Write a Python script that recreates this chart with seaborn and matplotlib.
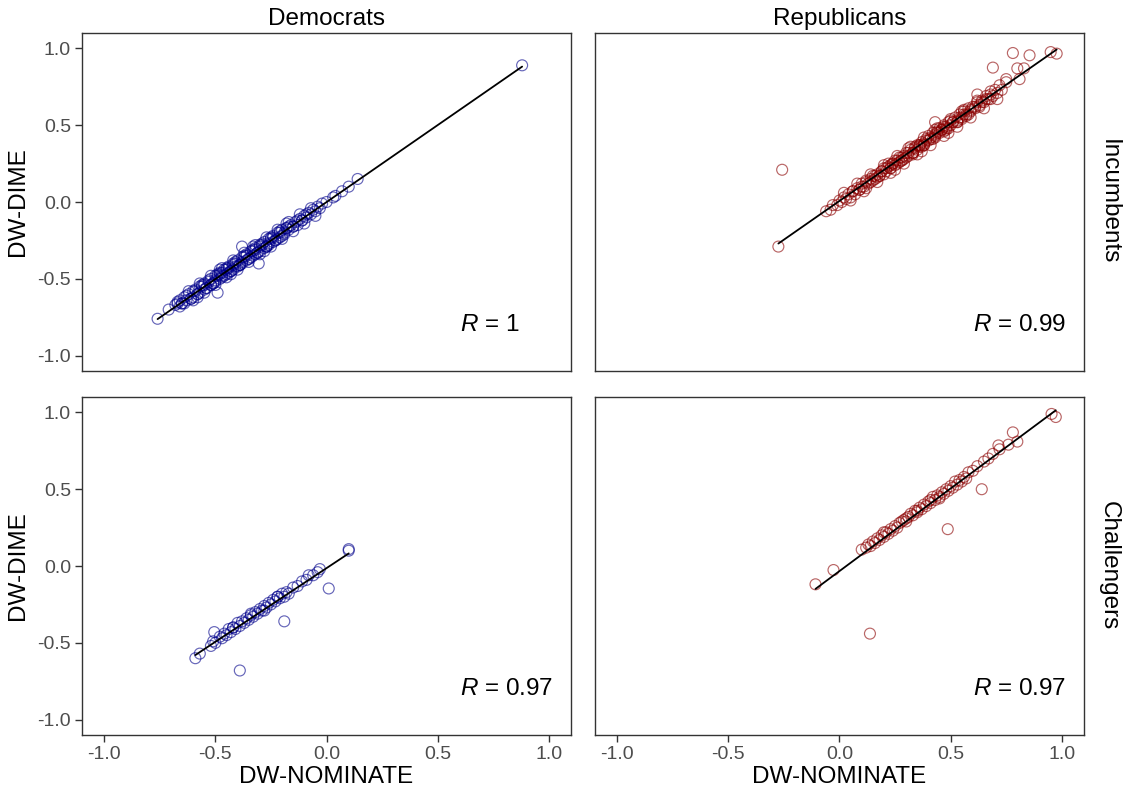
import matplotlib
matplotlib.use("Agg")
import matplotlib.pyplot as plt
import seaborn as sns
import pandas as pd

# DW-NOMINATE vs DW-DIME
dem_inc_nom = [
    -0.76, -0.71, -0.68, -0.67, -0.66, -0.66, -0.65, -0.64, -0.63, -0.62,
    -0.61, -0.60, -0.60, -0.59, -0.58, -0.57, -0.57, -0.56, -0.55, -0.55,
    -0.54, -0.53, -0.52, -0.52, -0.51, -0.50, -0.50, -0.49, -0.48, -0.48,
    -0.47, -0.46, -0.46, -0.45, -0.44, -0.44, -0.43, -0.42, -0.42, -0.41,
    -0.40, -0.40, -0.39, -0.38, -0.38, -0.37, -0.36, -0.36, -0.35, -0.34,
    -0.34, -0.33, -0.32, -0.32, -0.31, -0.30, -0.30, -0.29, -0.28, -0.28,
    -0.27, -0.26, -0.26, -0.25, -0.24, -0.24, -0.23, -0.22, -0.22, -0.21,
    -0.20, -0.20, -0.19, -0.18, -0.17, -0.16, -0.15, -0.14, -0.13, -0.12,
    -0.11, -0.10, -0.09, -0.08, -0.07, -0.06, -0.05, -0.04, -0.03, -0.02,
    0.00, 0.03, 0.04, 0.07, 0.10, 0.14, 0.88,
    -0.38, -0.305, -0.49, -0.67, -0.64,
    -0.65, -0.63, -0.61, -0.59, -0.58, -0.56, -0.54, -0.53, -0.51, -0.49,
    -0.47, -0.45, -0.43, -0.41, -0.39, -0.37, -0.35, -0.33, -0.31, -0.29,
    -0.27, -0.25, -0.23, -0.21, -0.19, -0.17, -0.15, -0.13, -0.11, -0.09,
    -0.55, -0.52, -0.48, -0.45, -0.42, -0.39, -0.36, -0.33, -0.30, -0.27,
    -0.24, -0.21, -0.18, -0.50, -0.44, -0.38, -0.32, -0.26, -0.47, -0.41,
    -0.62, -0.60, -0.57, -0.55, -0.52, -0.50, -0.47, -0.45, -0.42, -0.40,
    -0.37, -0.35, -0.32, -0.30, -0.27, -0.25, -0.22, -0.20, -0.17, -0.15,
    -0.12, -0.10, -0.07, -0.05, -0.58, -0.48, -0.43, -0.33, -0.28, -0.18]
dem_inc_dime = [
    -0.76, -0.70, -0.67, -0.65, -0.68, -0.64, -0.66, -0.62, -0.64, -0.60,
    -0.63, -0.58, -0.62, -0.57, -0.60, -0.55, -0.59, -0.54, -0.57, -0.53,
    -0.56, -0.51, -0.54, -0.50, -0.53, -0.48, -0.52, -0.47, -0.50, -0.46,
    -0.49, -0.44, -0.48, -0.43, -0.46, -0.42, -0.45, -0.40, -0.44, -0.39,
    -0.42, -0.38, -0.41, -0.36, -0.40, -0.35, -0.38, -0.34, -0.37, -0.32,
    -0.36, -0.31, -0.34, -0.30, -0.33, -0.28, -0.32, -0.27, -0.30, -0.26,
    -0.29, -0.24, -0.28, -0.23, -0.26, -0.22, -0.25, -0.20, -0.24, -0.19,
    -0.22, -0.18, -0.20, -0.17, -0.18, -0.15, -0.16, -0.13, -0.15, -0.11,
    -0.12, -0.09, -0.10, -0.07, -0.08, -0.05, -0.06, -0.03, -0.04, -0.01,
    0.00, 0.03, 0.04, 0.07, 0.10, 0.15, 0.89,
    -0.29, -0.40, -0.59, -0.66, -0.66,
    -0.66, -0.61, -0.63, -0.58, -0.60, -0.55, -0.56, -0.52, -0.53, -0.48,
    -0.48, -0.44, -0.45, -0.40, -0.41, -0.36, -0.37, -0.32, -0.33, -0.28,
    -0.29, -0.24, -0.25, -0.20, -0.21, -0.16, -0.16, -0.12, -0.12, -0.08,
    -0.54, -0.54, -0.47, -0.47, -0.41, -0.41, -0.35, -0.35, -0.29, -0.29,
    -0.23, -0.23, -0.17, -0.51, -0.43, -0.39, -0.31, -0.27, -0.46, -0.42,
    -0.58, -0.64, -0.53, -0.59, -0.48, -0.54, -0.43, -0.49, -0.38, -0.44,
    -0.33, -0.39, -0.28, -0.34, -0.23, -0.29, -0.18, -0.24, -0.13, -0.19,
    -0.08, -0.14, -0.04, -0.09, -0.62, -0.44, -0.47, -0.29, -0.32, -0.14]

rep_inc_nom = [
    -0.275, -0.258, -0.06, -0.04, -0.03, -0.01, 0.00, 0.01, 0.02, 0.03,
    0.04, 0.05, 0.06, 0.07, 0.08, 0.09, 0.10, 0.10, 0.11, 0.12,
    0.13, 0.14, 0.15, 0.15, 0.16, 0.17, 0.18, 0.19, 0.20, 0.20,
    0.21, 0.22, 0.23, 0.24, 0.25, 0.25, 0.26, 0.27, 0.28, 0.29,
    0.30, 0.30, 0.31, 0.32, 0.33, 0.34, 0.35, 0.35, 0.36, 0.37,
    0.38, 0.39, 0.40, 0.40, 0.41, 0.42, 0.43, 0.44, 0.45, 0.45,
    0.46, 0.47, 0.48, 0.49, 0.50, 0.50, 0.51, 0.52, 0.53, 0.54,
    0.55, 0.56, 0.57, 0.58, 0.59, 0.60, 0.61, 0.62, 0.63, 0.64,
    0.65, 0.66, 0.67, 0.68, 0.69, 0.70, 0.71, 0.72, 0.73, 0.75,
    0.43, 0.62, 0.69, 0.75, 0.78, 0.80, 0.81, 0.83, 0.855, 0.95,
    0.977, 0.12, 0.22, 0.33, 0.47, 0.55,
    0.06, 0.09, 0.12, 0.14, 0.16, 0.18, 0.21, 0.23, 0.26, 0.28,
    0.31, 0.33, 0.36, 0.38, 0.41, 0.43, 0.46, 0.48, 0.51, 0.53,
    0.56, 0.58, 0.61, 0.63, 0.66, 0.68, 0.17, 0.24, 0.27, 0.34,
    0.37, 0.44, 0.47, 0.54, 0.57, 0.64, 0.19, 0.29, 0.39, 0.49,
    0.59, 0.23, 0.33, 0.43, 0.53, 0.28, 0.38, 0.48, 0.36, 0.42,
    0.02, 0.05, 0.08, 0.11, 0.14, 0.17, 0.20, 0.23, 0.26, 0.29,
    0.32, 0.35, 0.38, 0.41, 0.44, 0.47, 0.50, 0.53, 0.56, 0.59,
    0.62, 0.65, 0.68, 0.71, 0.25, 0.31, 0.37, 0.43, 0.49, 0.55]
rep_inc_dime = [
    -0.29, 0.21, -0.06, -0.05, -0.02, -0.02, 0.01, 0.00, 0.03, 0.02,
    0.05, 0.03, 0.07, 0.05, 0.09, 0.08, 0.10, 0.12, 0.10, 0.14,
    0.12, 0.15, 0.14, 0.17, 0.15, 0.18, 0.17, 0.20, 0.18, 0.22,
    0.20, 0.23, 0.22, 0.25, 0.24, 0.27, 0.25, 0.29, 0.27, 0.30,
    0.29, 0.32, 0.30, 0.34, 0.32, 0.36, 0.34, 0.37, 0.36, 0.39,
    0.38, 0.41, 0.40, 0.43, 0.41, 0.45, 0.43, 0.46, 0.45, 0.48,
    0.47, 0.49, 0.48, 0.52, 0.50, 0.53, 0.52, 0.55, 0.53, 0.57,
    0.55, 0.59, 0.57, 0.61, 0.59, 0.62, 0.61, 0.65, 0.63, 0.66,
    0.65, 0.69, 0.67, 0.70, 0.69, 0.73, 0.71, 0.76, 0.73, 0.78,
    0.52, 0.70, 0.875, 0.80, 0.97, 0.87, 0.80, 0.87, 0.955, 0.976,
    0.966, 0.09, 0.25, 0.31, 0.50, 0.54,
    0.07, 0.08, 0.13, 0.13, 0.17, 0.17, 0.22, 0.22, 0.27, 0.27,
    0.32, 0.32, 0.37, 0.37, 0.42, 0.42, 0.47, 0.47, 0.52, 0.52,
    0.57, 0.57, 0.62, 0.62, 0.67, 0.67, 0.16, 0.25, 0.26, 0.35,
    0.36, 0.45, 0.46, 0.55, 0.56, 0.65, 0.20, 0.28, 0.40, 0.48,
    0.60, 0.24, 0.32, 0.44, 0.52, 0.29, 0.37, 0.49, 0.37, 0.41,
    0.06, 0.01, 0.12, 0.07, 0.18, 0.13, 0.24, 0.19, 0.30, 0.25,
    0.36, 0.31, 0.42, 0.37, 0.48, 0.43, 0.54, 0.49, 0.60, 0.55,
    0.66, 0.61, 0.72, 0.67, 0.21, 0.35, 0.33, 0.47, 0.45, 0.59]

dem_ch_nom = [
    -0.59, -0.57, -0.52, -0.51, -0.50, -0.48, -0.47, -0.46, -0.45, -0.44,
    -0.43, -0.42, -0.41, -0.40, -0.39, -0.38, -0.37, -0.36, -0.35, -0.34,
    -0.33, -0.32, -0.31, -0.30, -0.29, -0.28, -0.27, -0.26, -0.25, -0.24,
    -0.23, -0.22, -0.21, -0.20, -0.19, -0.18, -0.17, -0.15, -0.13, -0.11,
    -0.09, -0.08, -0.06, -0.04, -0.03, 0.10, 0.10, -0.505, -0.39, -0.19,
    0.01, -0.42, -0.34, -0.28, -0.22]
dem_ch_dime = [
    -0.60, -0.57, -0.52, -0.49, -0.50, -0.46, -0.47, -0.44, -0.45, -0.41,
    -0.43, -0.40, -0.41, -0.37, -0.39, -0.36, -0.37, -0.34, -0.35, -0.32,
    -0.33, -0.30, -0.31, -0.28, -0.29, -0.26, -0.27, -0.24, -0.25, -0.22,
    -0.23, -0.20, -0.21, -0.18, -0.20, -0.17, -0.18, -0.14, -0.13, -0.10,
    -0.09, -0.06, -0.06, -0.04, -0.02, 0.11, 0.10, -0.43, -0.68, -0.36,
    -0.146, -0.40, -0.31, -0.29, -0.20]

rep_ch_nom = [
    -0.108, -0.027, 0.10, 0.12, 0.13, 0.14, 0.15, 0.16, 0.17, 0.18,
    0.19, 0.20, 0.21, 0.22, 0.23, 0.24, 0.25, 0.26, 0.27, 0.28,
    0.29, 0.30, 0.31, 0.32, 0.33, 0.34, 0.35, 0.36, 0.37, 0.38,
    0.39, 0.40, 0.41, 0.42, 0.43, 0.44, 0.45, 0.46, 0.47, 0.48,
    0.49, 0.50, 0.51, 0.52, 0.53, 0.54, 0.55, 0.56, 0.57, 0.58,
    0.60, 0.62, 0.65, 0.67, 0.69, 0.715, 0.78, 0.80, 0.954, 0.973,
    0.137, 0.487, 0.64, 0.20, 0.30, 0.41, 0.45, 0.35, 0.72, 0.76]
rep_ch_dime = [
    -0.119, -0.026, 0.107, 0.12, 0.14, 0.13, 0.16, 0.15, 0.18, 0.17,
    0.20, 0.19, 0.22, 0.21, 0.24, 0.23, 0.26, 0.25, 0.28, 0.29,
    0.30, 0.31, 0.32, 0.34, 0.33, 0.36, 0.35, 0.38, 0.37, 0.40,
    0.39, 0.42, 0.41, 0.45, 0.43, 0.46, 0.45, 0.48, 0.47, 0.50,
    0.49, 0.52, 0.51, 0.55, 0.53, 0.56, 0.55, 0.58, 0.57, 0.61,
    0.62, 0.65, 0.68, 0.70, 0.73, 0.785, 0.87, 0.81, 0.99, 0.97,
    -0.44, 0.24, 0.50, 0.22, 0.29, 0.43, 0.44, 0.36, 0.76, 0.79]

parties = ["Democrats", "Republicans"]
statuses = ["Incumbents", "Challengers"]
party_colors = {"Democrats": "#00008B", "Republicans": "#8B0000"}
r_labels = {("Incumbents", "Democrats"): "1", ("Incumbents", "Republicans"): "0.99",
            ("Challengers", "Democrats"): "0.97", ("Challengers", "Republicans"): "0.97"}

frames = []
for party, status, nom, dime in [
    ("Democrats", "Incumbents", dem_inc_nom, dem_inc_dime),
    ("Republicans", "Incumbents", rep_inc_nom, rep_inc_dime),
    ("Democrats", "Challengers", dem_ch_nom, dem_ch_dime),
    ("Republicans", "Challengers", rep_ch_nom, rep_ch_dime),
]:
    frames.append(pd.DataFrame({"nominate": nom, "dime": dime,
                                "party": party, "status": status}))
df = pd.concat(frames, ignore_index=True)

sns.set_theme(style="white")
plt.rcParams["font.family"] = ["Liberation Sans", "DejaVu Sans"]
plt.rcParams["mathtext.fontset"] = "custom"
plt.rcParams["mathtext.it"] = "Liberation Sans:italic"
plt.rcParams["mathtext.rm"] = "Liberation Sans"
plt.rcParams["text.color"] = "black"
plt.rcParams["axes.labelcolor"] = "black"
plt.rcParams["axes.edgecolor"] = "#333333"
plt.rcParams["axes.linewidth"] = 1.0
plt.rcParams["xtick.color"] = "#333333"
plt.rcParams["ytick.color"] = "#333333"
plt.rcParams["xtick.labelcolor"] = "#4D4D4D"
plt.rcParams["ytick.labelcolor"] = "#4D4D4D"


def panel(data, **kws):
    ax = plt.gca()
    party = data["party"].iloc[0]
    status = data["status"].iloc[0]
    sns.scatterplot(data=data, x="nominate", y="dime", ax=ax, marker="o", s=62,
                    facecolors="none", edgecolor=party_colors[party],
                    linewidth=0.85, alpha=0.6)
    sns.regplot(data=data, x="nominate", y="dime", ax=ax, scatter=False, ci=None,
                truncate=True, color="black", line_kws={"linewidth": 1.3})
    ax.text(0.6, -0.8, r"$\it{R}$ = " + r_labels[(status, party)],
            ha="left", va="center", fontsize=17.5, color="black")


g = sns.FacetGrid(df, row="status", col="party", row_order=statuses,
                  col_order=parties, sharex=True, sharey=True,
                  despine=False, height=3.5, aspect=1.4)
g.map_dataframe(panel)
g.figure.set_size_inches(11.28, 7.96)
g.figure.subplots_adjust(left=0.0727, right=0.961, top=0.9585, bottom=0.0766,
                         wspace=0.049, hspace=0.077)
g.set_titles("")

ticks = [-1.0, -0.5, 0.0, 0.5, 1.0]
for i, status in enumerate(statuses):
    for j, party in enumerate(parties):
        ax = g.axes[i, j]
        ax.set_xlim(-1.1, 1.1)
        ax.set_ylim(-1.1, 1.1)
        ax.set_xticks(ticks)
        ax.set_yticks(ticks)
        ax.set_xticklabels([f"{t:.1f}" for t in ticks])
        ax.set_yticklabels([f"{t:.1f}" for t in ticks])
        ax.tick_params(axis="both", which="both", length=5, width=1.0,
                       labelsize=14, pad=3)
        ax.tick_params(axis="x", bottom=(i == 1), labelbottom=(i == 1))
        ax.tick_params(axis="y", left=(j == 0), labelleft=(j == 0))
        ax.set_xlabel("DW-NOMINATE" if i == 1 else "", fontsize=17.5, labelpad=2)
        ax.set_ylabel("DW-DIME" if j == 0 else "", fontsize=17.5, labelpad=6)
        for sp in ax.spines.values():
            sp.set_visible(True)
            sp.set_color("#333333")
        if i == 0:
            ax.set_title(party, fontsize=17.5, pad=6, color="black")
        if j == 1:
            ax.annotate(status, xy=(1.0, 0.5), xycoords="axes fraction",
                        xytext=(10, 0), textcoords="offset points",
                        rotation=270, ha="left", va="center", fontsize=17.5,
                        color="black")

g.figure.savefig("out.png", dpi=100)
